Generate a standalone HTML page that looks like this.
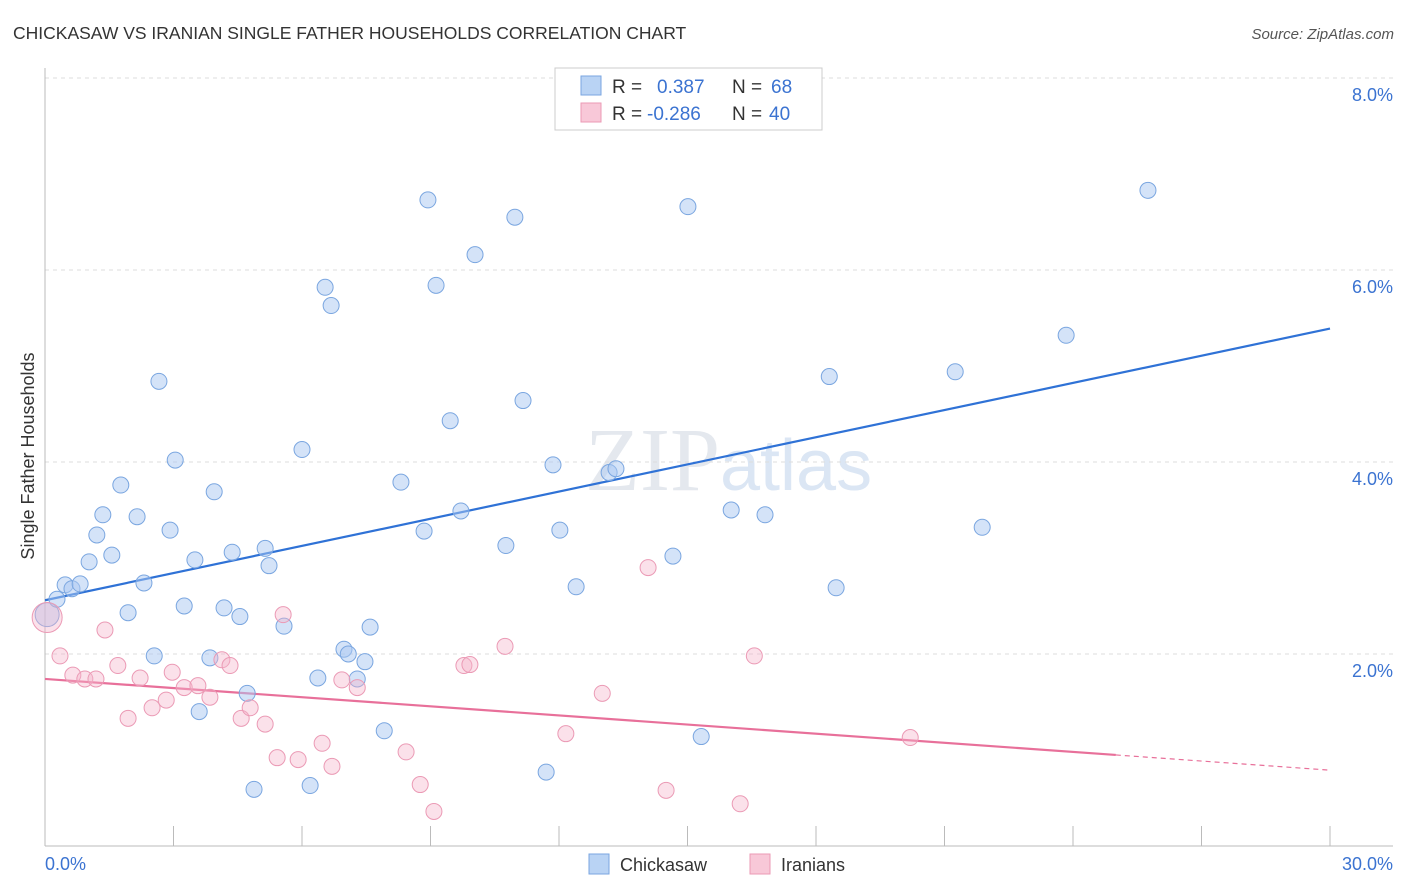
<!DOCTYPE html>
<html><head><meta charset="utf-8"><style>
body{margin:0;background:#fff;font-family:"Liberation Sans",sans-serif}
svg{display:block}
</style></head><body>
<svg id="chart" width="1406" height="892">
<text x="13" y="39" font-size="17.5" fill="#333">CHICKASAW VS IRANIAN SINGLE FATHER HOUSEHOLDS CORRELATION CHART</text>
<text x="1394" y="39" font-size="15" fill="#555" font-style="italic" text-anchor="end">Source: ZipAtlas.com</text>
<text x="720" y="490" font-size="90" fill="#e4e8ee" text-anchor="end" font-family="Liberation Serif">ZIP</text>
<text x="720" y="490" font-size="72" fill="#dbe6f4">atlas</text>
<g id="grid"></g><g id="axes"></g><g id="lines"></g><g id="pts"></g>
<text transform="translate(34,456) rotate(-90)" font-size="18" fill="#333" text-anchor="middle">Single Father Households</text>
<g>
<rect x="555" y="68" width="267" height="62" fill="#fff" stroke="#ccc"/>
<rect x="581" y="76" width="20" height="19" fill="#b9d3f4" stroke="#7aa6e0"/>
<text x="612" y="93" font-size="19" fill="#333">R =</text><text x="657" y="93" font-size="19" fill="#3b73d1">0.387</text>
<text x="732" y="93" font-size="19" fill="#333">N =</text><text x="771" y="93" font-size="19" fill="#3b73d1">68</text>
<rect x="581" y="103" width="20" height="19" fill="#f8c8d8" stroke="#eb9ab5"/>
<text x="612" y="120" font-size="19" fill="#333">R =</text><text x="647" y="120" font-size="19" fill="#3b73d1">-0.286</text>
<text x="732" y="120" font-size="19" fill="#333">N =</text><text x="769" y="120" font-size="19" fill="#3b73d1">40</text>
</g>
<g><rect x="589" y="854" width="20" height="20" fill="#b9d3f4" stroke="#7aa6e0"/><text x="620" y="871" font-size="18" fill="#333">Chickasaw</text></g>
<g><rect x="750" y="854" width="20" height="20" fill="#f8c8d8" stroke="#eb9ab5"/><text x="781" y="871" font-size="18" fill="#333">Iranians</text></g>
</svg>
<script>
const blueX=[.05,.28,.47,.63,.82,1.03,1.21,1.35,1.56,1.77,1.94,2.15,2.31,2.55,2.66,2.92,3.04,3.25,3.50,3.60,3.85,3.95,4.18,4.37,4.55,4.72,4.88,5.14,5.23,5.58,6.00,6.19,6.37,6.54,6.68,6.98,7.08,7.29,7.47,7.59,7.92,8.31,8.85,8.94,9.13,9.46,9.71,10.04,10.76,10.97,11.16,11.70,11.86,12.02,12.40,13.17,13.33,14.66,15.01,15.32,16.02,16.81,18.31,18.47,21.25,21.88,23.84,25.75];
const blueY=[2.41,2.57,2.72,2.68,2.73,2.96,3.24,3.45,3.03,3.76,2.43,3.43,2.74,1.98,4.84,3.29,4.02,2.50,2.98,1.40,1.96,3.69,2.48,3.06,2.39,1.59,.59,3.10,2.92,2.29,4.13,.63,1.75,5.82,5.63,2.05,2.00,1.74,1.92,2.28,1.20,3.79,3.28,6.73,5.84,4.43,3.49,6.16,3.13,6.55,4.64,.77,3.97,3.29,2.70,3.89,3.93,3.02,6.66,1.14,3.50,3.45,4.89,2.69,4.94,3.32,5.32,6.83];
const pinkX=[.05,.35,.65,.93,1.19,1.40,1.70,1.94,2.22,2.50,2.83,2.97,3.25,3.57,3.85,4.13,4.32,4.58,4.79,5.14,5.42,5.56,5.91,6.47,6.70,6.93,7.29,8.43,8.76,9.08,9.78,9.92,10.74,12.16,13.01,14.08,14.50,16.23,16.56,20.20];
const pinkY=[2.38,1.98,1.78,1.74,1.74,2.25,1.88,1.33,1.75,1.44,1.52,1.81,1.65,1.67,1.55,1.94,1.88,1.33,1.44,1.27,.92,2.41,.90,1.07,.83,1.73,1.65,.98,.64,.36,1.88,1.89,2.08,1.17,1.59,2.90,.58,.44,1.98,1.13];
const trendBlue=[2.56,5.39];
const trendPink=[1.74,0.79];
const yTicks=[2,4,6,8];
const yTickLabels=["2.0%","4.0%","6.0%","8.0%"];
const xTicks=[0,3,6,9,12,15,18,21,24,27,30];
const ns="http://www.w3.org/2000/svg";
const X=v=>45+v*1285/30, Y=v=>846-v*96;
function mk(p,tag,a){const e=document.createElementNS(ns,tag);for(const k in a)e.setAttribute(k,a[k]);document.getElementById(p).appendChild(e);return e;}
yTicks.forEach((t,i)=>{
 const g=mk('grid','line',{x1:45,x2:1393,y1:Y(t),y2:Y(t),stroke:'#ddd','stroke-dasharray':'4,4'});
 
 
 const l=mk('grid','text',{x:1393,y:Y(t)+23,'font-size':18,fill:'#3b73d1','text-anchor':'end'});l.textContent=yTickLabels[i];
 
 
});
const ax=mk('axes','line',{x1:45,x2:1393,y1:846,y2:846,stroke:'#bbb'});


const ay=mk('axes','line',{x1:45,x2:45,y1:68,y2:846,stroke:'#bbb'});


xTicks.forEach(t=>{const k=mk('axes','line',{x1:X(t),x2:X(t),y1:826,y2:846,stroke:'#bbb'});
 
 });
const x0=mk('axes','text',{x:45,y:870,'font-size':18,fill:'#3b73d1'});x0.textContent='0.0%';


const x1=mk('axes','text',{x:1393,y:870,'font-size':18,fill:'#3b73d1','text-anchor':'end'});x1.textContent='30.0%';


blueX.forEach((v,i)=>{const c=mk('pts','circle',{cx:X(v),cy:Y(blueY[i]),r:i==0?12:8,fill:'rgba(170,200,242,0.5)',stroke:'#7aa6e0','stroke-width':1});
 
 });
pinkX.forEach((v,i)=>{const c=mk('pts','circle',{cx:X(v),cy:Y(pinkY[i]),r:i==0?15:8,fill:'rgba(246,180,202,0.4)',stroke:'#eb9ab5','stroke-width':1});
 
 });
const bl=mk('lines','line',{x1:X(0),y1:Y(trendBlue[0]),x2:X(30),y2:Y(trendBlue[1]),stroke:'#2f72d6','stroke-width':2.2});


const pAt=x=>trendPink[0]+(trendPink[1]-trendPink[0])*x/30;
const pl=mk('lines','line',{x1:X(0),y1:Y(pAt(0)),x2:X(25),y2:Y(pAt(25)),stroke:'#e8709a','stroke-width':2.2});


const pd=mk('lines','line',{x1:X(25),y1:Y(pAt(25)),x2:X(30),y2:Y(pAt(30)),stroke:'#e8709a','stroke-width':1.2,'stroke-dasharray':'5,4'});


</script>
</body></html>
